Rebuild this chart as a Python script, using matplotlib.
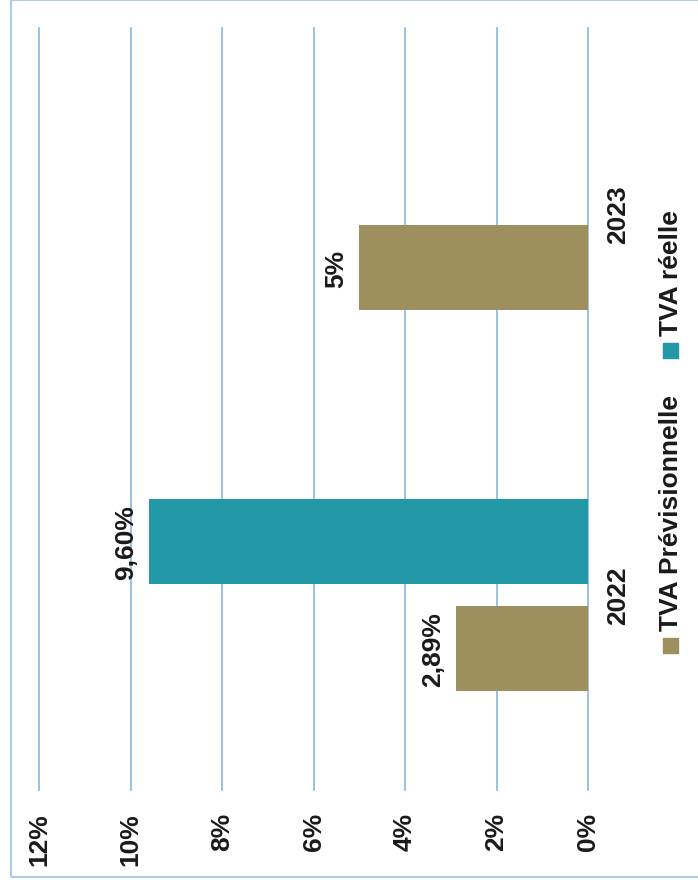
import matplotlib
matplotlib.use("Agg")
import matplotlib.pyplot as plt
from matplotlib.patches import Rectangle
from matplotlib import font_manager as fm
import numpy as np

# pick regular-width Liberation Sans Bold (not Narrow)
bold_path = None
for f in fm.findSystemFonts():
    base = f.split('/')[-1]
    if base == 'LiberationSans-Bold.ttf':
        bold_path = f
        break
if bold_path:
    fm.fontManager.addfont(bold_path)
    fam = fm.FontProperties(fname=bold_path).get_name()
else:
    fam = 'DejaVu Sans'
plt.rcParams['font.family'] = [fam, 'DejaVu Sans']
plt.rcParams['font.weight'] = 'bold'

# ---- data ----
categories = ["2022", "2023"]
series_names = ["TVA Prévisionnelle", "TVA réelle"]
prev_values = [2.89, 5.0]
reelle_values = [9.60, np.nan]
prev_labels = ["2,89%", "5%"]
reelle_labels = ["9,60%", ""]
tick_values = [0, 2, 4, 6, 8, 10, 12]
tick_labels = ["0%", "2%", "4%", "6%", "8%", "10%", "12%"]

# ---- style ----
c_prev = "#9D905E"
c_reel = "#2399A7"
c_grid = "#86B6DF"
c_frame = "#A9CDEB"
c_text = "#1A1A1A"
fs = 19

W, H = 698, 887
fig = plt.figure(figsize=(W / 100, H / 100), dpi=100)

def fx(px):
    return px / W

def fy(py):
    return 1 - py / H

def fp():
    if bold_path:
        return fm.FontProperties(fname=bold_path, size=fs)
    return fm.FontProperties(family='DejaVu Sans', weight='bold', size=fs)

ax = fig.add_axes([fx(39), fy(791), fx(588) - fx(39), fy(29) - fy(791)])

y = np.arange(len(categories))
bw = 0.223
off = 0.141
ax.barh(y - off, prev_values, height=bw, color=c_prev, zorder=3)
ax.barh(y + off, reelle_values, height=bw, color=c_reel, zorder=3)

ax.set_xlim(12, 0)
ax.set_ylim(-0.512, 1.488)

ax.set_xticks(tick_values)
ax.set_xticklabels(tick_labels, rotation=90, color=c_text)
for t in ax.get_xticklabels():
    t.set_fontproperties(fp())
ax.tick_params(axis='x', length=0, pad=16)
ax.grid(axis='x', color=c_grid, linewidth=1.2, zorder=0)
for gl in ax.get_xgridlines():
    gl.set_clip_on(False)
ax.set_axisbelow(True)

ax.yaxis.tick_right()
ax.set_yticks(y)
ax.set_yticklabels(categories, rotation=90, color=c_text, va='center')
for t in ax.get_yticklabels():
    t.set_fontproperties(fp())
ax.tick_params(axis='y', length=0, pad=13)

for s in ax.spines.values():
    s.set_visible(False)

# data labels
for yy, v, lab in list(zip(y - off, prev_values, prev_labels)) + list(zip(y + off, reelle_values, reelle_labels)):
    if np.isfinite(v) and lab:
        ax.annotate(lab, xy=(v, yy), xytext=(-8, 0), textcoords='offset points',
                    ha='right', va='center', rotation=90, fontproperties=fp(),
                    color=c_text)

# legend (rotated, manual)
leg_items = [(series_names[0], c_prev, 647, 513), (series_names[1], c_reel, 352, 273)]
for name, col, sq_y, txt_y in leg_items:
    fig.patches.append(Rectangle((fx(663), fy(sq_y + 7)), fx(15), 15 / H,
                                 transform=fig.transFigure, color=col))
    fig.text(fx(671), fy(txt_y), name, rotation=90, ha='center', va='center',
             fontproperties=fp(), color=c_text)

# frame
fig.patches.append(Rectangle((fx(11), fy(878)), fx(700) - fx(11), fy(1) - fy(878),
                             transform=fig.transFigure, fill=False,
                             edgecolor=c_frame, linewidth=1.5))

fig.savefig("out.png", dpi=100)
